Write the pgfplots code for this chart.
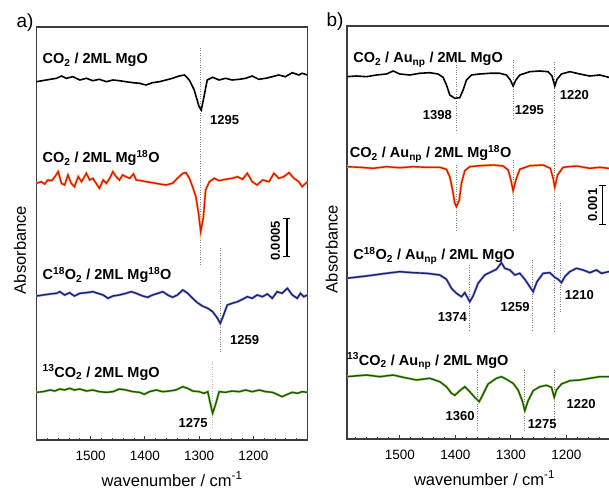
\documentclass[border=0pt]{standalone}
\usepackage{fontspec}
\setmainfont{Liberation Sans}
\usepackage{pgfplots}
\usepackage{pgfplotstable}
\pgfplotsset{compat=1.18}
\usetikzlibrary{arrows.meta}

\definecolor{specred}{RGB}{220,20,20}
\definecolor{redglow}{RGB}{255,200,110}
\definecolor{specblue}{RGB}{30,30,115}
\definecolor{blueglow}{RGB}{165,180,235}
\definecolor{specgreen}{RGB}{25,85,25}
\definecolor{greenglow}{RGB}{185,225,105}
\definecolor{axisgray}{RGB}{60,60,60}

% y values are in picture units (pt from bottom of the figure)
\pgfplotstableread{
wn y
1600 410.3
1582 412
1563 413.7
1554 416
1545 413.7
1533 415.3
1520 412
1508 413.7
1496 411.3
1484 412.7
1471 410.3
1459 412
1447 411.3
1435 410.3
1422 409.3
1410 408.7
1398 407
1386 409.3
1373 410.3
1361 412
1349 413.7
1337 416
1327 417
1318 412
1309 402
1300 385.3
1296 382
1291 395.3
1285 412
1275 414.7
1263 412
1251 413.7
1239 412
1226 412.7
1214 413.7
1202 416
1190 412.7
1177 413.7
1165 415.3
1153 417
1141 415.3
1128 419.3
1116 417
1110 418.7
1100 417
}\aone

\pgfplotstableread{
wn y
1600 308.7
1591 310.3
1585 308
1579 312
1572 311.3
1566 315.3
1560 320.3
1554 308.7
1548 307
1542 317
1536 308.7
1530 305.3
1523 315.3
1517 310.3
1508 318.7
1502 312
1496 313.7
1490 308.7
1484 303.7
1477 312
1471 308.7
1465 313.7
1459 320.3
1453 315.3
1447 312
1441 317
1435 315.3
1428 313.7
1421 318
1416 312
1407 311.3
1398 310.3
1386 309.3
1373 308
1361 307
1349 308.7
1340 313.7
1330 318.7
1324 319.3
1318 313.7
1312 305.3
1306 295.3
1301 278.7
1297 260.3
1292 275.3
1288 302
1281 310.3
1272 313.7
1263 311.3
1251 312.7
1239 313.7
1229 315.3
1220 312.7
1211 318.7
1202 310.3
1193 307
1183 312
1171 310.3
1162 318.7
1153 313.7
1144 315.3
1134 319.3
1125 313.7
1116 310.3
1110 305.3
1100 310.3
}\atwo

\pgfplotstableread{
wn y
1600 196
1588 197
1575 198
1563 198.7
1557 200.3
1548 197
1539 199.3
1530 196
1520 198.7
1508 199.3
1496 200.3
1487 198.7
1477 197
1468 193.7
1459 196
1447 197
1435 198.7
1425 200.3
1416 198.7
1404 196
1395 194.7
1386 197
1376 198.7
1367 200.3
1358 197
1349 194.7
1340 197
1330 202
1321 198.7
1312 193.7
1303 189.3
1294 186
1284 183.7
1275 180.3
1266 173.7
1261 168.7
1256 175.3
1248 187
1239 188.7
1229 190.3
1220 192.7
1211 195.3
1202 193.7
1193 197
1183 195.3
1174 198
1165 193.7
1156 200.3
1147 198.7
1137 203.7
1128 197
1119 193.7
1113 198.7
1107 195.3
1100 197
}\athree

\pgfplotstableread{
wn y
1600 99.7
1588 100.3
1575 102
1566 101
1557 103
1548 102
1539 103.7
1530 102
1520 103
1508 101
1496 102
1484 100.3
1471 99.7
1459 100.3
1447 103
1435 102
1422 100.3
1410 99.7
1401 97.7
1392 100.3
1379 102
1367 100.3
1355 101
1343 102
1330 105.3
1321 103.7
1312 101
1300 100.3
1291 98.7
1284 100.3
1280 90.3
1275 78.7
1269 88.7
1263 100.3
1251 99.7
1239 101
1226 100.3
1214 102
1202 100.3
1189 102
1177 100.3
1165 99.7
1156 97.7
1147 95.3
1137 97.7
1128 99.7
1119 98.7
1110 100.3
1100 99.7
}\afour

\pgfplotstableread{
wn y
1596 415.3
1578 416
1560 415.3
1542 417
1524 418
1512 421
1500 418
1482 417
1464 418.7
1446 419.3
1431 418
1422 414.7
1416 407
1410 397
1401 393.7
1392 394.3
1386 402
1380 412
1371 417
1356 418
1338 418.7
1320 418.7
1308 417
1301 412
1296 406
1291 412
1284 417
1266 420.3
1248 421
1233 420.3
1226 416
1221 406
1217 412.7
1209 418
1194 420.3
1176 418
1158 416
1140 417
1124 414.7
1100 415
}\bone

\pgfplotstableread{
wn y
1596 325.3
1572 324.7
1548 323.7
1524 325.3
1500 324.3
1476 325.3
1452 324.7
1428 324.7
1416 322.7
1410 315.3
1405 302
1401 288.7
1398 285.3
1393 292
1389 308.7
1383 321.3
1374 325.3
1356 326.3
1332 327
1314 326
1305 322
1300 312
1296 301.3
1291 312
1284 322.7
1266 326.3
1242 327
1229 323.7
1224 313.7
1221 304.7
1216 317
1206 324.7
1182 326
1158 323.7
1140 324.7
1124 323.7
1100 324
}\btwo

\pgfplotstableread{
wn y
1596 213.7
1560 216
1524 218.7
1500 220.3
1476 219.3
1452 218.7
1428 217
1416 212.7
1407 203.7
1398 198.7
1389 195.3
1383 199.3
1374 190.3
1368 196
1359 208.7
1347 217
1335 220.3
1326 222.7
1317 229.3
1311 223.7
1302 222
1293 217
1284 218.7
1275 212.7
1266 205.3
1260 200.3
1253 210.3
1242 218.7
1230 219.3
1221 214.7
1215 212.7
1209 209.3
1203 215.3
1194 220.3
1182 223.7
1170 222
1158 219.3
1146 222
1137 218.7
1124 220.3
1100 220
}\bthree

\pgfplotstableread{
wn y
1596 115.3
1560 117
1536 115.3
1512 117
1494 114.7
1470 112
1446 113.7
1428 110.3
1416 105.3
1407 98.7
1401 96.7
1392 101.3
1383 105.3
1374 100.3
1365 94.7
1357 90.3
1350 98
1341 108
1326 113.7
1317 115.3
1308 112.7
1296 108.7
1287 102
1279 90.3
1275 81.3
1269 91.3
1260 101.3
1248 105.3
1236 106.7
1227 104.7
1222 94.7
1218 102
1209 108
1194 111.3
1176 112
1158 113.7
1140 115.3
1124 115.3
1100 116
}\bfour

\pgfplotsset{
  spectrum/.style={
    scale only axis, x dir=reverse, height=413pt,
    ytick=\empty, xtick={1200,1300,1400,1500},
    minor xtick={1100,1120,...,1600},
    xtick pos=left, tick align=inside,
    major tick length=4pt, minor tick length=2.5pt,
    every tick/.style={axisgray, line width=0.8pt},
    axis line style={axisgray, line width=1.1pt},
    /pgf/number format/assume math mode=true,
    /pgf/number format/set thousands separator={},
    xticklabel style={font=\fontsize{13.5}{14}\selectfont, anchor=base, yshift=-20pt},
    xlabel={wavenumber / cm\textsuperscript{-1}},
    ylabel={Absorbance},
    every axis x label/.style={at={(axis description cs:0.5,0)}, anchor=base,
      yshift=-46pt, font=\fontsize{16.5}{18}\selectfont},
  },
  blk/.style={black, line width=1.6pt, mark=none},
  redc/.style={specred, line width=1.4pt, mark=none, preaction={draw=redglow, line width=2.6pt}},
  bluec/.style={specblue, line width=1.4pt, mark=none, preaction={draw=blueglow, line width=2.6pt}},
  greenc/.style={specgreen, line width=1.4pt, mark=none, preaction={draw=greenglow, line width=2.6pt}},
}
\tikzset{
  refline/.style={gray, line width=1pt, dash pattern=on 1pt off 1.4pt},
  lab/.style={font=\fontsize{14.5}{15}\selectfont\bfseries, anchor=base west, inner sep=0pt},
  num/.style={font=\fontsize{13}{14}\selectfont\bfseries, inner sep=0pt},
  sbar/.style={black, line width=1.3pt, {Bar[width=7pt]}-{Bar[width=7pt]}},
}

\begin{document}
\begin{tikzpicture}[x=1pt, y=1pt]
\useasboundingbox (0,0) rectangle (609,492);

% panel a
\begin{axis}[spectrum, at={(36.5pt,52pt)}, anchor=south west,
    width=271pt, xmin=1100, xmax=1600, ymin=52, ymax=465,
    every axis y label/.style={at={(axis description cs:-0.061,0.46)}, rotate=90,
      anchor=center, font=\fontsize{16.5}{18}\selectfont}]
\draw[refline] (axis cs:1297,444) -- (axis cs:1297,227);
\draw[refline] (axis cs:1261,244) -- (axis cs:1261,139);
\draw[refline, gray!55] (axis cs:1276,130) -- (axis cs:1276,65);
\addplot[blk] table[x=wn, y=y] {\aone};
\addplot[redc] table[x=wn, y=y] {\atwo};
\addplot[bluec] table[x=wn, y=y] {\athree};
\addplot[greenc] table[x=wn, y=y] {\afour};
\node[lab] at (axis cs:1589,428) {CO\textsubscript{2} / 2ML MgO};
\node[lab] at (axis cs:1589,329) {CO\textsubscript{2} / 2ML Mg\textsuperscript{18}O};
\node[lab] at (axis cs:1589,212) {C\textsuperscript{18}O\textsubscript{2} / 2ML Mg\textsuperscript{18}O};
\node[lab] at (axis cs:1589,115) {\textsuperscript{13}CO\textsubscript{2} / 2ML MgO};
\node[num, anchor=base west] at (axis cs:1280,367) {1295};
\node[num, anchor=base west] at (axis cs:1243,147) {1259};
\node[num, anchor=base east] at (axis cs:1284,65) {1275};
\draw[sbar] (axis cs:1138,274) -- (axis cs:1138,235);
\node[num, rotate=90, anchor=center] at (axis cs:1159,251) {0.0005};
\end{axis}

% panel b
\begin{axis}[spectrum, at={(347pt,53pt)}, anchor=south west,
    width=275pt, xmin=1100, xmax=1595, ymin=53, ymax=466,
    every axis y label/.style={at={(axis description cs:-0.056,0.46)}, rotate=90,
      anchor=center, font=\fontsize{16.5}{18}\selectfont}]
\draw[refline] (axis cs:1398,432) -- (axis cs:1398,362);
\draw[refline] (axis cs:1398,327) -- (axis cs:1398,262);
\draw[refline] (axis cs:1296,432) -- (axis cs:1296,374);
\draw[refline] (axis cs:1296,332) -- (axis cs:1296,262);
\draw[refline] (axis cs:1221,430) -- (axis cs:1221,160);
\draw[refline] (axis cs:1211,289) -- (axis cs:1211,180);
\draw[refline] (axis cs:1374,227) -- (axis cs:1374,162);
\draw[refline] (axis cs:1261,232) -- (axis cs:1261,162);
\draw[refline] (axis cs:1360,122) -- (axis cs:1360,60);
\draw[refline] (axis cs:1275,122) -- (axis cs:1275,60);
\draw[refline] (axis cs:1221,122) -- (axis cs:1221,62);
\addplot[blk] table[x=wn, y=y] {\bone};
\addplot[redc] table[x=wn, y=y] {\btwo};
\addplot[bluec] table[x=wn, y=y] {\bthree};
\addplot[greenc] table[x=wn, y=y] {\bfour};
\node[lab] at (axis cs:1584,429) {CO\textsubscript{2} / Au\textsubscript{np} / 2ML MgO};
\node[lab] at (axis cs:1590,334) {CO\textsubscript{2} / Au\textsubscript{np} / 2ML Mg\textsuperscript{18}O};
\node[lab] at (axis cs:1584,232) {C\textsuperscript{18}O\textsubscript{2} / Au\textsubscript{np} / 2ML MgO};
\node[lab] at (axis cs:1595,127) {\textsuperscript{13}CO\textsubscript{2} / Au\textsubscript{np} / 2ML MgO};
\node[num, anchor=base east] at (axis cs:1406,372) {1398};
\node[num, anchor=base west] at (axis cs:1293,377) {1295};
\node[num, anchor=base west] at (axis cs:1212,392) {1220};
\node[num, anchor=base east] at (axis cs:1379,170) {1374};
\node[num, anchor=base east] at (axis cs:1266,180) {1259};
\node[num, anchor=base west] at (axis cs:1203,192) {1210};
\node[num, anchor=base east] at (axis cs:1365,72) {1360};
\node[num, anchor=base west] at (axis cs:1270,64) {1275};
\node[num, anchor=base west] at (axis cs:1200,84) {1220};
\draw[sbar] (axis cs:1135,307) -- (axis cs:1135,267);
\node[num, rotate=90, anchor=center] at (axis cs:1153,287) {0.001};
\end{axis}

\node[font=\fontsize{19}{20}\selectfont] at (25,469) {a)};
\node[font=\fontsize{19}{20}\selectfont] at (335,470) {b)};
\end{tikzpicture}
\end{document}
